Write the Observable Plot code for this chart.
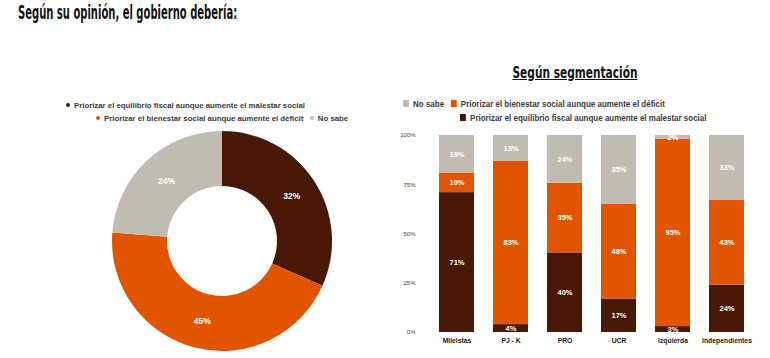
<!DOCTYPE html>
<html><head><meta charset="utf-8">
<script src="https://cdn.jsdelivr.net/npm/d3@7"></script>
<script src="https://cdn.jsdelivr.net/npm/@observablehq/plot@0.6"></script>
<style>
body{margin:0;background:#fff;font-family:"Liberation Sans",Arial,sans-serif;}
#wrap{position:relative;width:770px;height:358px;overflow:hidden;background:#fff;}
.abs{position:absolute;white-space:nowrap;}
.title{left:18px;top:1px;font-family:"DejaVu Sans Condensed","Liberation Sans",sans-serif;font-weight:bold;font-size:19px;color:#141414;transform-origin:0 0;transform:scaleX(0.585);}
.subtitle{left:575px;top:64px;font-family:"DejaVu Sans Condensed","Liberation Sans",sans-serif;font-weight:bold;font-size:15.5px;color:#141414;text-decoration:underline;transform:translateX(-50%) scaleX(0.76);}
.lgL{font-size:7.8px;font-weight:bold;color:#3a3a3a;}
.lgR{font-family:"Liberation Sans",Arial,sans-serif;font-size:9.5px;font-weight:bold;color:#3a3a3a;transform-origin:0 0;transform:scaleX(0.84);}
.dot{display:inline-block;width:4px;height:4px;border-radius:50%;margin-right:4px;vertical-align:middle;position:relative;top:-1px;}
.sq{display:inline-block;width:7px;height:7px;margin-right:5px;vertical-align:middle;position:relative;top:-1px;}
#donut{position:absolute;left:100px;top:125px;}
#bars{position:absolute;left:395px;top:125px;}
</style></head>
<body><div id="wrap">
<div class="abs title">Según su opinión, el gobierno debería:</div>
<div class="abs subtitle">Según segmentación</div>
<div class="abs lgL" id="lgL1" style="left:66px;top:101px;"></div>
<div class="abs lgL" id="lgL2" style="left:96px;top:114px;"></div>
<div class="abs lgR" id="lgR1" style="left:403px;top:98px;"></div>
<div class="abs lgR" id="lgR2" style="left:460px;top:112px;"></div>
<div id="donut"></div>
<div id="bars"></div>
</div>
<script>
// ---- data ----
const seriesNames = [
  "Priorizar el equilibrio fiscal aunque aumente el malestar social",
  "Priorizar el bienestar social aunque aumente el déficit",
  "No sabe"
];
const seriesColors = ["#461805", "#E15500", "#C0BCB1"];
const donutValues = [32, 45, 24];
const segments = ["Mileistas", "PJ - K", "PRO", "UCR", "Izquierda", "Independientes"];
const equilibrio = [71, 4, 40, 17, 3, 24];
const bienestar = [10, 83, 35, 48, 95, 43];
const noSabe = [19, 13, 24, 35, 2, 33];
const yTicks = [0, 0.25, 0.5, 0.75, 1];

const colorOf = s => seriesColors[seriesNames.indexOf(s)];

// ---- legends ----
function item(cls, s) {
  return `<span class="${cls}" style="background:${colorOf(s)}"></span>${s}`;
}
document.getElementById("lgL1").innerHTML = item("dot", seriesNames[0]);
document.getElementById("lgL2").innerHTML = item("dot", seriesNames[1]) + "&nbsp;&nbsp;&nbsp;" + item("dot", seriesNames[2]);
document.getElementById("lgR1").innerHTML = item("sq", seriesNames[2]) + "&nbsp;&nbsp;&nbsp;" + item("sq", seriesNames[1]);
document.getElementById("lgR2").innerHTML = item("sq", seriesNames[0]);

// ---- donut ----
const donutData = seriesNames.map((s, i) => ({name: s, value: donutValues[i]}));
const pie = d3.pie().sort(null).value(d => d.value)(donutData);
const unitArc = d3.arc().innerRadius(0.5).outerRadius(1);
const donutLabels = pie.map(p => {
  const [cx, cy] = unitArc.centroid(p);
  return {x: cx, y: -cy, text: p.data.value + "%"};
});
function arcMark(index, scales) {
  const {x, y} = scales;
  const r = x(1) - x(0);
  const arc = d3.arc().innerRadius(r * 0.5).outerRadius(r);
  const g = d3.create("svg:g").attr("transform", `translate(${x(0)},${y(0)})`);
  g.selectAll("path").data(pie).join("path")
    .attr("d", arc).attr("fill", d => colorOf(d.data.name));
  return g.node();
}
const donut = Plot.plot({
  width: 245, height: 233,
  marginLeft: 12, marginRight: 13, marginTop: 6, marginBottom: 7,
  x: {domain: [-1, 1], axis: null},
  y: {domain: [-1, 1], axis: null},
  style: {fontFamily: "Liberation Sans, Arial, sans-serif", background: "transparent"},
  marks: [
    arcMark,
    Plot.text(donutLabels, {x: "x", y: "y", text: "text", fill: "white", fontWeight: "bold", fontSize: 8.5})
  ]
});
document.getElementById("donut").appendChild(donut);

// ---- stacked bars ----
const rows = segments.flatMap((s, i) => [
  {segment: s, serie: seriesNames[0], value: equilibrio[i]},
  {segment: s, serie: seriesNames[1], value: bienestar[i]},
  {segment: s, serie: seriesNames[2], value: noSabe[i]}
]);
const bars = Plot.plot({
  width: 375, height: 233,
  marginLeft: 32, marginRight: 15, marginTop: 10, marginBottom: 26,
  x: {domain: segments, paddingInner: 0.36, paddingOuter: 0.18, label: null, tickSize: 0, tickPadding: 6},
  y: {domain: [0, 1], ticks: yTicks, tickFormat: d => Math.round(d * 100) + "%", label: null, tickSize: 0, tickPadding: 12},
  color: {domain: seriesNames, range: seriesColors},
  style: {fontFamily: "Liberation Sans, Arial, sans-serif", fontSize: "6px", color: "#444", background: "transparent"},
  marks: [
    Plot.barY(rows, Plot.stackY({x: "segment", y: "value", fill: "serie", order: seriesNames, offset: "normalize"})),
    Plot.text(rows, Plot.stackY({x: "segment", y: "value", z: "serie", order: seriesNames, offset: "normalize",
      text: d => d.value + "%", fill: "white", fontWeight: "bold", fontSize: 7.5}))
  ]
});
bars.querySelectorAll('[aria-label^="x-axis"] text').forEach(t => {
  t.setAttribute("font-weight", "bold"); t.setAttribute("font-size", "6.8"); t.setAttribute("fill", "#222");
});
document.getElementById("bars").appendChild(bars);
</script>
</body></html>
